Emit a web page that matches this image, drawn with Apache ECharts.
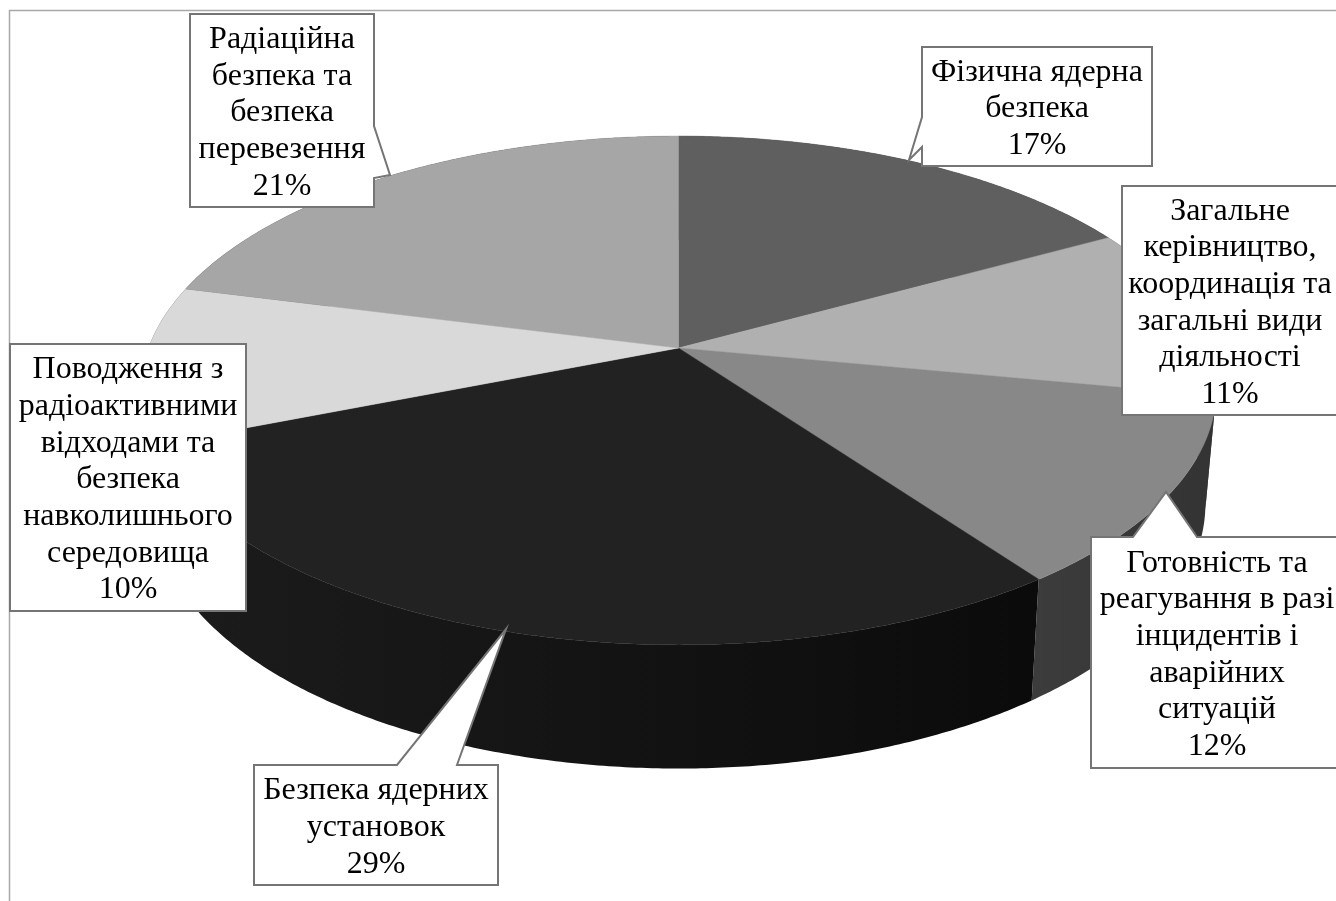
<!DOCTYPE html>
<html>
<head>
<meta charset="utf-8">
<style>html,body{margin:0;padding:0;background:#fff}#c{width:1336px;height:901px}</style>
<script src="https://cdn.jsdelivr.net/npm/echarts@6/dist/echarts.min.js"></script>
</head>
<body>
<div id="c"></div>
<script>
// ---- data ----
const categories = [
  'Фізична ядерна\nбезпека',
  'Загальне\nкерівництво,\nкоординація та\nзагальні види\nдіяльності',
  'Готовність та\nреагування в разі\nінцидентів і\nаварійних\nситуацій',
  'Безпека ядерних\nустановок',
  'Поводження з\nрадіоактивними\nвідходами та\nбезпека\nнавколишнього\nсередовища',
  'Радіаційна\nбезпека та\nбезпека\nперевезення'
];
const values = [17, 11, 12, 29, 10, 21];
// ---- styles / layout (separate from data) ----
const topColors = ['#5f5f5f', '#b0b0b0', '#888888', '#222222', '#d9d9d9', '#a6a6a6'];
const wallColors = [
  ['#333333', '#333333'], ['#4a4a4a', '#4a4a4a'], ['#3c3c3c', '#333333'],
  ['#1c1c1c', '#0b0b0b'], ['#1c1c1c', '#1c1c1c'], ['#1c1c1c', '#1c1c1c']
];
const topFace = {cx: 678.5, cy: 348, rx: 530, ry: 247.3, p: 0.167};
const bottomFace = {cx: 679, cy: 460, rx: 519, ry: 257, p: 0.167};
// callout boxes: l,t,r,b, text centre x, tail polygon fragment
const callouts = [
  {l: 922, t: 47, r: 1152, b: 166, tx: 1037, tail: {side: 'left', pts: [[922, 147], [909, 160], [922, 117]]}},
  {l: 1122, t: 186, r: 1340, b: 415, tx: 1230, tail: null},
  {l: 1091, t: 537, r: 1344, b: 768, tx: 1217, tail: {side: 'top', pts: [[1133, 537], [1166, 492], [1197, 537]]}},
  {l: 254, t: 765, r: 498, b: 885, tx: 376, tail: {side: 'top', pts: [[397, 765], [506, 629], [457, 765]]}},
  {l: 10, t: 344, r: 246, b: 611, tx: 128, tail: null},
  {l: 190, t: 14, r: 374, b: 207, tx: 282, tail: {side: 'right', pts: [[374, 126], [390, 175], [374, 178]]}}
];
const FONT = '32px "Liberation Serif", "Times New Roman", serif';

const total = values.reduce((a, b) => a + b, 0);
function project(face, deg) {
  const t = deg * Math.PI / 180, c = Math.cos(t), s = Math.sin(t);
  const k = 1 / (1 + face.p * c);
  return [face.cx + face.rx * s * k, face.cy - face.ry * c * k];
}
function arc(face, a, b) {
  const pts = [], n = Math.max(2, Math.ceil(Math.abs(b - a) * 2));
  for (let i = 0; i <= n; i++) pts.push(project(face, a + (b - a) * i / n));
  return pts;
}
function startAngle(idx) {
  let acc = 0;
  for (let i = 0; i < idx; i++) acc += values[i];
  return acc / total * 360;
}
function renderSlice(params, api) {
  const i = params.dataIndex;
  const a = startAngle(i);
  const end = a + api.value(0) / total * 360;
  const topArc = arc(topFace, a, end);
  const botArc = arc(bottomFace, a, end);
  const wall = topArc.concat(botArc.slice().reverse());
  const xs = wall.map(p => p[0]);
  const x0 = Math.min.apply(null, xs), x1 = Math.max.apply(null, xs);
  const mid = (a + end) / 2;
  return {
    type: 'group',
    children: [
      {
        type: 'polygon', z2: 1 + Math.round(180 - Math.abs(180 - mid)),
        shape: {points: wall},
        style: {
          fill: new echarts.graphic.LinearGradient(x0, 0, x1, 0, [
            {offset: 0, color: wallColors[i][0]}, {offset: 1, color: wallColors[i][1]}
          ], true)
        }
      },
      {
        type: 'polygon', z2: 500,
        shape: {points: [[topFace.cx, topFace.cy]].concat(topArc)},
        style: {fill: topColors[i], stroke: topColors[i], lineWidth: 0.5}
      }
    ]
  };
}
function boxPath(c) {
  const {l, t, r, b, tail} = c;
  if (!tail) return [[l, t], [r, t], [r, b], [l, b]];
  if (tail.side === 'top') return [[l, t]].concat(tail.pts, [[r, t], [r, b], [l, b]]);
  if (tail.side === 'right') return [[l, t], [r, t]].concat(tail.pts, [[r, b], [l, b]]);
  return [[l, t], [r, t], [r, b], [l, b]].concat(tail.pts);
}
function renderCallout(params, api) {
  const i = params.dataIndex;
  const c = callouts[i];
  return {
    type: 'group',
    children: [
      {type: 'polygon', z2: 600, shape: {points: boxPath(c)},
       style: {fill: '#fff', stroke: '#757575', lineWidth: 2, lineJoin: 'miter'}},
      {type: 'text', z2: 601, x: c.tx, y: (c.t + c.b) / 2 + 2.5,
       style: {
         text: categories[i] + '\n' + api.value(0) + '%',
         font: FONT, fill: '#000', align: 'center', verticalAlign: 'middle', lineHeight: 36.67
       }}
    ]
  };
}
const chart = echarts.init(document.getElementById('c'), null, {renderer: 'canvas'});
const seriesData = values.map(v => [v]);
chart.setOption({
  backgroundColor: '#fff',
  animation: false,
  tooltip: {show: false},
  graphic: [{
    type: 'polyline', silent: true, z: 0,
    shape: {points: [[9.5, 901], [9.5, 10.5], [1336, 10.5]]},
    style: {stroke: '#a8a8a8', lineWidth: 1.5, fill: 'none'}
  }],
  series: [
    {type: 'custom', coordinateSystem: 'none', silent: true, z: 2, clip: false,
     renderItem: renderSlice, data: seriesData, encode: {value: 0}},
    {type: 'custom', coordinateSystem: 'none', silent: true, z: 3, clip: false,
     renderItem: renderCallout, data: seriesData, encode: {value: 0}}
  ]
});
</script>
</body>
</html>
